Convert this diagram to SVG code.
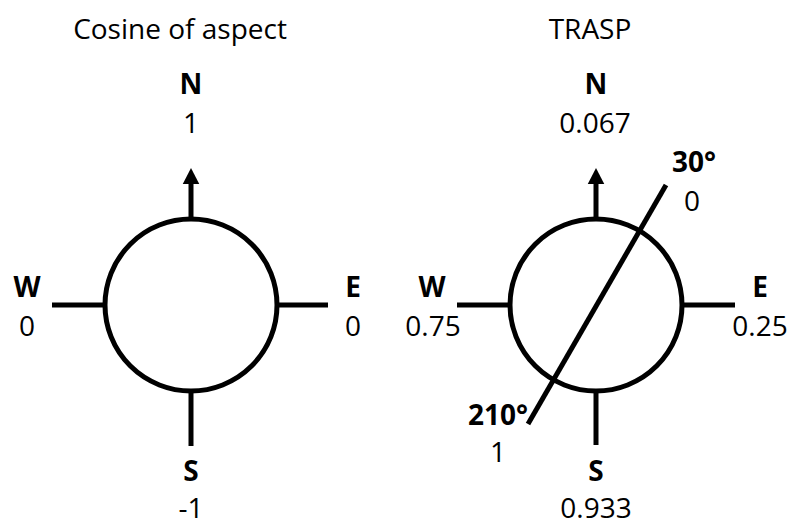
<svg xmlns="http://www.w3.org/2000/svg" width="793" height="525" viewBox="0 0 793 525">
  <style>
    text { font-family: "Open Sans", "Liberation Sans", sans-serif; font-size: 28px; fill: #000; text-anchor: middle; }
    .b { font-weight: 700; }
    .ring { fill: #fff; stroke: #000; stroke-width: 5; }
    .tick { stroke: #000; stroke-width: 5; fill: none; }
  </style>
  <defs>
    <marker id="arrowhead" markerWidth="4" markerHeight="4" refX="0" refY="2" orient="auto" markerUnits="strokeWidth">
      <path d="M0,0.35 L3.2,2 L0,3.65 Z" fill="#000"/>
    </marker>
  </defs>

  <!-- Left compass: cosine of aspect -->
  <g id="cosine-compass">
    <text x="180" y="39">Cosine of aspect</text>
    <g class="connectors">
      <line class="tick" x1="191" y1="219" x2="191" y2="184" marker-end="url(#arrowhead)"/>
      <line class="tick" x1="52" y1="305" x2="106" y2="305"/>
      <line class="tick" x1="276" y1="305" x2="328" y2="305"/>
      <line class="tick" x1="191" y1="390" x2="191" y2="446"/>
    </g>
    <circle class="ring" cx="191" cy="305" r="86"/>
    <text class="b" x="191" y="94">N</text>
    <text x="191" y="133">1</text>
    <text class="b" x="27" y="297">W</text>
    <text x="27" y="336">0</text>
    <text class="b" x="353" y="297">E</text>
    <text x="353" y="336">0</text>
    <text class="b" x="191" y="481">S</text>
    <text x="191" y="518">-1</text>
  </g>

  <!-- Right compass: TRASP -->
  <g id="trasp-compass">
    <text x="590" y="39">TRASP</text>
    <g class="connectors">
      <line class="tick" x1="596" y1="219" x2="596" y2="184" marker-end="url(#arrowhead)"/>
      <line class="tick" x1="457" y1="305" x2="511" y2="305"/>
      <line class="tick" x1="681" y1="305" x2="735" y2="305"/>
      <line class="tick" x1="596" y1="390" x2="596" y2="445"/>
    </g>
    <circle class="ring" cx="596" cy="305" r="86"/>
    <line id="axis-30-210" class="tick" x1="528" y1="424" x2="666" y2="185"/>
    <text class="b" x="596" y="94">N</text>
    <text x="595" y="133">0.067</text>
    <text class="b" x="432" y="297">W</text>
    <text x="433" y="336">0.75</text>
    <text class="b" x="760" y="297">E</text>
    <text x="760" y="336">0.25</text>
    <text class="b" x="596" y="481">S</text>
    <text x="596" y="518">0.933</text>
    <text class="b" x="694" y="172">30°</text>
    <text x="692" y="211">0</text>
    <text class="b" x="498" y="425">210°</text>
    <text x="498" y="462">1</text>
  </g>
</svg>
